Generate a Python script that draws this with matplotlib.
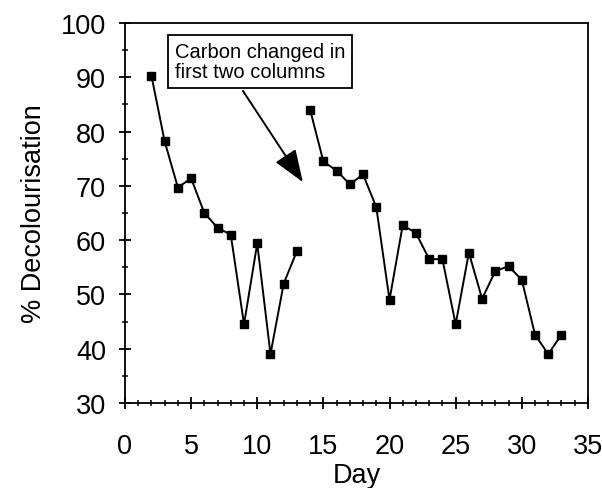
import matplotlib.pyplot as plt
from matplotlib.ticker import MultipleLocator

plt.rcParams['font.family'] = ['Liberation Sans', 'DejaVu Sans']

# First period (before carbon change)
days_a = [2, 3, 4, 5, 6, 7, 8, 9, 10, 11, 12, 13]
decol_a = [90.3, 78.2, 69.7, 71.4, 65.0, 62.3, 61.0, 44.5, 59.4, 39.0, 52.0, 58.0]

# Second period (after carbon change)
days_b = [14, 15, 16, 17, 18, 19, 20, 21, 22, 23, 24, 25, 26, 27, 28, 29, 30, 31, 32, 33]
decol_b = [84.0, 74.5, 72.8, 70.3, 72.1, 66.1, 49.0, 62.8, 61.3, 56.5, 56.5, 44.5,
           57.7, 49.2, 54.3, 55.2, 52.7, 42.6, 39.0, 42.6]

note = 'Carbon changed in\nfirst two columns'

fig = plt.figure(figsize=(6.02, 4.89), dpi=100)
ax = fig.add_axes([0.2076, 0.1738, 0.769, 0.777])

style = dict(color='black', lw=1.4, marker='s', markersize=6)
ax.plot(days_a, decol_a, **style)
ax.plot(days_b, decol_b, **style)

ax.set_xlim(0, 35)
ax.set_ylim(30, 100)
ax.xaxis.set_major_locator(MultipleLocator(5))
ax.xaxis.set_minor_locator(MultipleLocator(1))
ax.yaxis.set_major_locator(MultipleLocator(10))
ax.yaxis.set_minor_locator(MultipleLocator(5))
ax.tick_params(which='major', direction='inout', length=9, width=1.3, labelsize=19.5)
ax.tick_params(which='minor', direction='inout', length=5, width=1.1)
ax.tick_params(axis='y', which='major', pad=9)
ax.tick_params(axis='x', which='major', pad=17)
ax.tick_params(axis='y', which='both', right=False)

for s in ax.spines.values():
    s.set_linewidth(1.3)

ax.set_xlabel('Day', fontsize=19.5, labelpad=2)
ax.set_ylabel('% Decolourisation', fontsize=19.5, labelpad=10)

ax.text(3.75, 92.9, note, fontsize=14.5, ha='left', va='center', linespacing=1.05,
        bbox=dict(boxstyle='square,pad=0.35', fc='white', ec='black', lw=1.3))
ax.annotate('', xy=(13.45, 70.7), xytext=(8.92, 87.5),
            arrowprops=dict(arrowstyle='-|>,head_length=0.8,head_width=0.3', color='black',
                            lw=1.4, mutation_scale=25, shrinkA=0, shrinkB=0))

fig.savefig('out.png', dpi=100)
